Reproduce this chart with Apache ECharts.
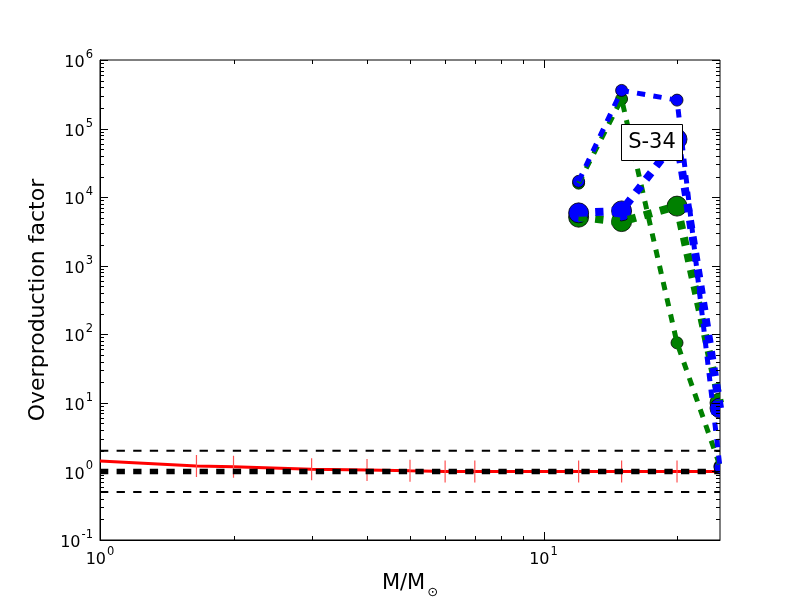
<!DOCTYPE html>
<html>
<head>
<meta charset="utf-8">
<script src="https://cdn.jsdelivr.net/npm/echarts@6/dist/echarts.min.js"></script>
<style>html,body{margin:0;padding:0;background:#fff;}#chart{width:800px;height:600px;}</style>
</head>
<body>
<div id="chart"></div>
<script>
// ---- data ----
const masses = [12, 15, 20, 25];
const greenSmall = [1.6e4, 2.7e5, 75, 1.2];
const greenLarge = [5.1e3, 4.4e3, 7.4e3, 10];
const blueSmall = [1.7e4, 3.6e5, 2.6e5, 1.15];
const blueLarge = [5.9e3, 6.3e3, 7.0e4, 8.4];
const redMasses = [1, 1.65, 2, 3, 4, 5, 6, 7, 12, 15, 20, 25];
const redValues = [1.42, 1.2, 1.17, 1.08, 1.05, 1.02, 1.0, 1.0, 1.0, 1.0, 1.0, 1.0];
const refLevels = [2, 1, 0.5];
const xRange = [1, 25];
const yRange = [0.1, 1e6];
const xMajorTicks = [1, 10];
const xMinorTicks = [2, 3, 4, 5, 6, 7, 8, 9, 20];
const yDecades = [0.1, 1, 10, 100, 1000, 1e4, 1e5, 1e6];
const minorMult = [2, 3, 4, 5, 6, 7, 8, 9];
const annotation = 'S-34';

// ---- tick helper data (type: 0 x-minor, 1 x-major, 2 y-minor, 3 y-major) ----
const tickData = [];
xMinorTicks.forEach(v => tickData.push([v, 1, 0]));
xMajorTicks.forEach(v => tickData.push([v, 1, 1]));
yDecades.forEach((d, i) => {
  tickData.push([1, d, 3]);
  if (i < yDecades.length - 1) minorMult.forEach(m => tickData.push([1, d * m, 2]));
});

const FONT = 'DejaVu Sans';
function powLabel(v) {
  const l = Math.log10(v);
  const e = Math.round(l);
  if (Math.abs(l - e) > 1e-6) return '';
  return '{b|10}{s|' + e + '}';
}
const richPow = {
  b: {fontFamily: FONT, fontSize: 16, color: '#000', lineHeight: 22, verticalAlign: 'bottom'},
  s: {fontFamily: FONT, fontSize: 11.5, color: '#000', lineHeight: 22, verticalAlign: 'top', padding: [0, 0, 0, 1]}
};

function pairs(xs, ys) { return xs.map((x, i) => [x, ys[i]]); }

const dashLong = [8.3, 8.3];

function lineSeries(ys, color, lw) {
  return {
    type: 'line', data: pairs(masses, ys), symbol: 'none',
    lineStyle: {color: color, width: lw, type: dashLong, cap: 'butt'},
    z: 4, clip: true, silent: true
  };
}
function markerSeries(ys, color, size) {
  return {
    type: 'custom', data: pairs(masses, ys), encode: {x: 0, y: 1}, clip: true, z: 4, silent: true,
    renderItem: function (params, api) {
      const p = api.coord([api.value(0), api.value(1)]);
      return {type: 'circle', shape: {cx: p[0], cy: p[1], r: size / 2},
        style: {fill: color, stroke: '#000', lineWidth: 0.8}};
    }
  };
}

const redData = redMasses.map((m, i) => {
  if (i === 0 || i === redMasses.length - 1) return {value: [m, redValues[i]], symbol: 'none'};
  return [m, redValues[i]];
});

const series = [
  {
    type: 'line', data: redData, symbol: 'rect', symbolSize: [1.2, 22], showAllSymbol: true,
    lineStyle: {color: '#ff0000', width: 3},
    itemStyle: {color: '#ff5050'}, z: 2, silent: true
  }
];
refLevels.forEach((lv) => {
  series.push({
    type: 'line', data: [[xRange[0], lv], [xRange[1], lv]], symbol: 'none', silent: true,
    lineStyle: {color: '#000', width: lv === 1 ? 5.5 : 2, type: dashLong, cap: 'butt'}, z: 3
  });
});
series.push(lineSeries(greenSmall, '#008000', 5));
series.push(markerSeries(greenSmall, '#008000', 12));
series.push(lineSeries(greenLarge, '#008000', 8));
series.push(markerSeries(greenLarge, '#008000', 20));
series.push(lineSeries(blueSmall, '#0000ff', 5));
series.push(markerSeries(blueSmall, '#0000ff', 12));
series.push(lineSeries(blueLarge, '#0000ff', 8));
series.push(markerSeries(blueLarge, '#0000ff', 20));
series.push({
  type: 'custom', data: tickData, encode: {x: 0, y: 1}, clip: false, z: 10, silent: true,
  renderItem: function (params, api) {
    const t = api.value(2);
    const st = {stroke: '#000', lineWidth: 1};
    const ch = [];
    if (t < 2) {
      const v = api.value(0);
      const pb = api.coord([v, yRange[0]]);
      const pt = api.coord([v, yRange[1]]);
      const L = t === 1 ? 8 : 4;
      const x = Math.round(pb[0]) + 0.5;
      ch.push({type: 'line', shape: {x1: x, y1: pb[1], x2: x, y2: pb[1] - L}, style: st});
      ch.push({type: 'line', shape: {x1: x, y1: pt[1], x2: x, y2: pt[1] + L}, style: st});
    } else {
      const v = api.value(1);
      const pl = api.coord([xRange[0], v]);
      const pr = api.coord([xRange[1], v]);
      const L = t === 3 ? 8 : 4;
      const y = Math.round(pl[1]) + 0.5;
      ch.push({type: 'line', shape: {x1: pl[0], y1: y, x2: pl[0] + L, y2: y}, style: st});
      ch.push({type: 'line', shape: {x1: pr[0], y1: y, x2: pr[0] - L, y2: y}, style: st});
    }
    return {type: 'group', children: ch};
  }
});

const chart = echarts.init(document.getElementById('chart'), null, {renderer: 'canvas'});
chart.setOption({
  animation: false,
  backgroundColor: '#fff',
  textStyle: {fontFamily: FONT},
  grid: {left: 100, right: 80, top: 60, bottom: 60, containLabel: false, outerBoundsMode: 'none',
    show: true, borderColor: '#000', borderWidth: 1, backgroundColor: '#fff', z: 0},
  xAxis: {
    type: 'log', logBase: 10, min: xRange[0], max: xRange[1],
    name: '{m|M/M}{o|⊙}', nameLocation: 'middle', nameGap: 28,
    nameTextStyle: {
      rich: {
        m: {fontFamily: FONT, fontSize: 21, color: '#000', lineHeight: 26, verticalAlign: 'top'},
        o: {fontFamily: FONT, fontSize: 13, color: '#000', lineHeight: 26, verticalAlign: 'bottom', padding: [0, 0, 0, 2]}
      }
    },
    axisLine: {show: true, lineStyle: {color: '#000', width: 1}},
    axisTick: {show: false},
    splitLine: {show: false},
    minorTick: {show: false},
    axisLabel: {margin: 6, formatter: powLabel, rich: richPow, showMaxLabel: false}
  },
  yAxis: {
    type: 'log', logBase: 10, min: yRange[0], max: yRange[1],
    name: 'Overproduction factor', nameLocation: 'middle', nameGap: 44,
    nameTextStyle: {fontFamily: FONT, fontSize: 22, color: '#000'},
    axisLine: {show: true, lineStyle: {color: '#000', width: 1}},
    axisTick: {show: false},
    splitLine: {show: false},
    axisLabel: {margin: 7, formatter: powLabel, rich: richPow}
  },
  series: series,
  graphic: [
    {type: 'rect', z: 100, shape: {x: 621.5, y: 124.5, width: 61, height: 36}, style: {fill: '#fff', stroke: '#000', lineWidth: 1}},
    {type: 'text', z: 101, x: 652, y: 143, style: {text: annotation, fontFamily: FONT, fontSize: 21, fill: '#000', align: 'center', verticalAlign: 'middle'}}
  ]
});
</script>
</body>
</html>
